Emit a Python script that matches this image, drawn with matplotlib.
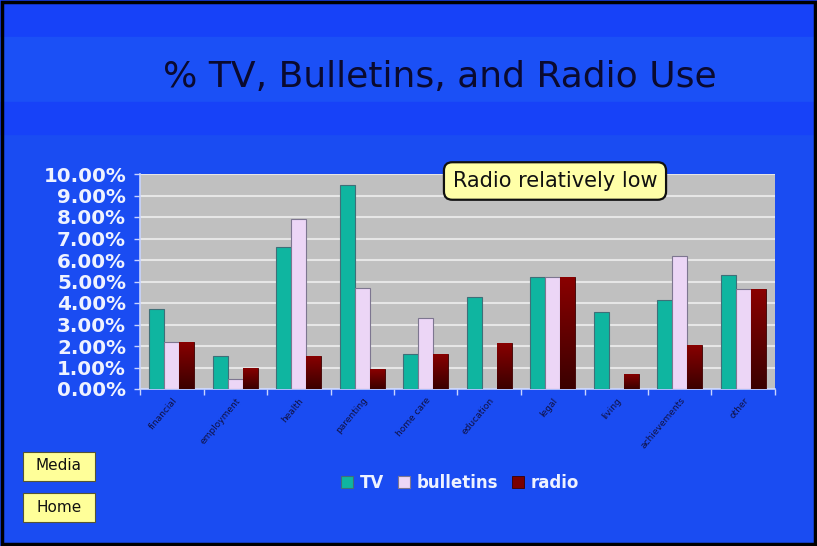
import numpy as np
import matplotlib.pyplot as plt
from matplotlib.patches import Rectangle
from matplotlib.ticker import FuncFormatter, MultipleLocator
from matplotlib.colors import LinearSegmentedColormap

categories = ["financial", "employment", "health", "parenting", "home care",
              "education", "legal", "living", "achievements", "other"]
tv = [3.7, 1.55, 6.6, 9.5, 1.65, 4.3, 5.2, 3.6, 4.15, 5.3]
bulletins = [2.2, 0.45, 7.9, 4.7, 3.3, 0.0, 5.2, 0.0, 6.2, 4.65]
radio = [2.2, 1.0, 1.55, 0.92, 1.65, 2.15, 5.2, 0.7, 2.05, 4.65]
series_names = ["TV", "bulletins", "radio"]

BLUE = "#1a4cf2"
BAND_DARK = "#1742f8"
BAND_LIGHT = "#1b50f6"
TV_C = "#0fb5a0"
BUL_C = "#ecd6f6"
RAD_C = "#7a0000"
TXT_W = "#eef2ff"

fig = plt.figure(figsize=(8.17, 5.46), dpi=100)
fig.patch.set_facecolor(BLUE)

# header bands
H = 546.0
def band(y0, y1, color):
    fig.patches.append(Rectangle((0, 1 - y1 / H), 1, (y1 - y0) / H,
                                 transform=fig.transFigure, color=color, zorder=0))
band(0, 37, BAND_DARK)
band(37, 102, BAND_LIGHT)
band(102, 134, BAND_DARK)

fig.text(440 / 817, 1 - 77 / H, "% TV, Bulletins, and Radio Use",
         ha="center", va="center", fontsize=26, color="#0a0a30",
         family="DejaVu Sans")

ax = fig.add_axes([140 / 817, 1 - 389 / H, 635 / 817, 215 / H])
ax.set_facecolor("#c0c0c0")

x = np.arange(len(categories))
w = 0.235
bars_tv = ax.bar(x - w, tv, w, color=TV_C, edgecolor="#3f6f78", linewidth=0.8, zorder=3, label=series_names[0])
bars_bul = ax.bar(x, bulletins, w, color=BUL_C, edgecolor="#7d7690", linewidth=0.8, zorder=3, label=series_names[1])
bars_rad = ax.bar(x + w, radio, w, color=RAD_C, edgecolor="#3a0000", linewidth=0.6, zorder=3, label=series_names[2])

# vertical gradient on the radio bars
grad = np.linspace(0, 1, 256).reshape(-1, 1)
cmap = LinearSegmentedColormap.from_list("rad", ["#3a0000", "#8a0000"])
for b in bars_rad:
    h = b.get_height()
    if h <= 0:
        continue
    x0 = b.get_x()
    im = ax.imshow(grad, extent=(x0, x0 + b.get_width(), 0, h), origin="lower",
                   cmap=cmap, aspect="auto", zorder=3.5)
    im.set_clip_path(b)

ax.set_xlim(-0.5, len(categories) - 0.5)
ax.set_ylim(0, 10)
ax.yaxis.set_major_locator(MultipleLocator(1))
ax.yaxis.set_major_formatter(FuncFormatter(lambda v, p: f"{v:.2f}%"))
ax.grid(axis="y", color="#e6e6e6", linewidth=1.5, zorder=1)
ax.set_axisbelow(True)

ax.set_xticks(np.arange(len(categories) + 1) - 0.5)
ax.set_xticklabels([])
ax.set_xticks(x, minor=True)
ax.set_xticklabels(categories, minor=True, rotation=50, ha="right",
                   rotation_mode="anchor", fontsize=6.5, color="#101040")
ax.tick_params(axis="x", which="minor", length=0, pad=5)
ax.tick_params(axis="x", which="major", length=4, color="#c8d4ff", width=1)
ax.tick_params(axis="y", length=4, color="#c8d4ff", width=1,
               labelsize=14.3, labelcolor=TXT_W, pad=6)
for lbl in ax.get_yticklabels():
    lbl.set_fontweight("bold")

for side in ["top", "right"]:
    ax.spines[side].set_visible(False)
for side in ["left", "bottom"]:
    ax.spines[side].set_color("#c8d4ff")
    ax.spines[side].set_linewidth(1.2)

leg = fig.legend(handles=[bars_tv, bars_bul, bars_rad], labels=series_names,
                 loc="center", bbox_to_anchor=(460 / 817, 1 - 483 / H),
                 ncol=3, frameon=False, handlelength=0.75, handleheight=0.75,
                 handletextpad=0.4, columnspacing=0.8,
                 prop={"weight": "bold", "size": 12})
for t in leg.get_texts():
    t.set_color(TXT_W)

# annotation box
fig.text(555 / 817, 1 - 181 / H, "Radio relatively low", ha="center", va="center",
         fontsize=15, color="#111111",
         bbox=dict(boxstyle="round,pad=0.42,rounding_size=0.4", fc="#ffffa8",
                   ec="#111111", lw=1.6), zorder=10)

# navigation buttons
for label, yc in [("Media", 466), ("Home", 507)]:
    fig.patches.append(Rectangle((23 / 817, 1 - (yc + 14.5) / H), 72 / 817, 29 / H,
                                 transform=fig.transFigure, fc="#ffff99",
                                 ec="#555533", lw=0.8, zorder=5))
    fig.text(59 / 817, 1 - yc / H, label, ha="center", va="center",
             fontsize=11, color="#111111", zorder=6)

# outer frame
fig.patches.append(Rectangle((0.002, 0.003), 0.996, 0.994, transform=fig.transFigure,
                             fill=False, ec="black", lw=2.5, zorder=20))

fig.savefig("out.png", dpi=100, facecolor=fig.get_facecolor())
